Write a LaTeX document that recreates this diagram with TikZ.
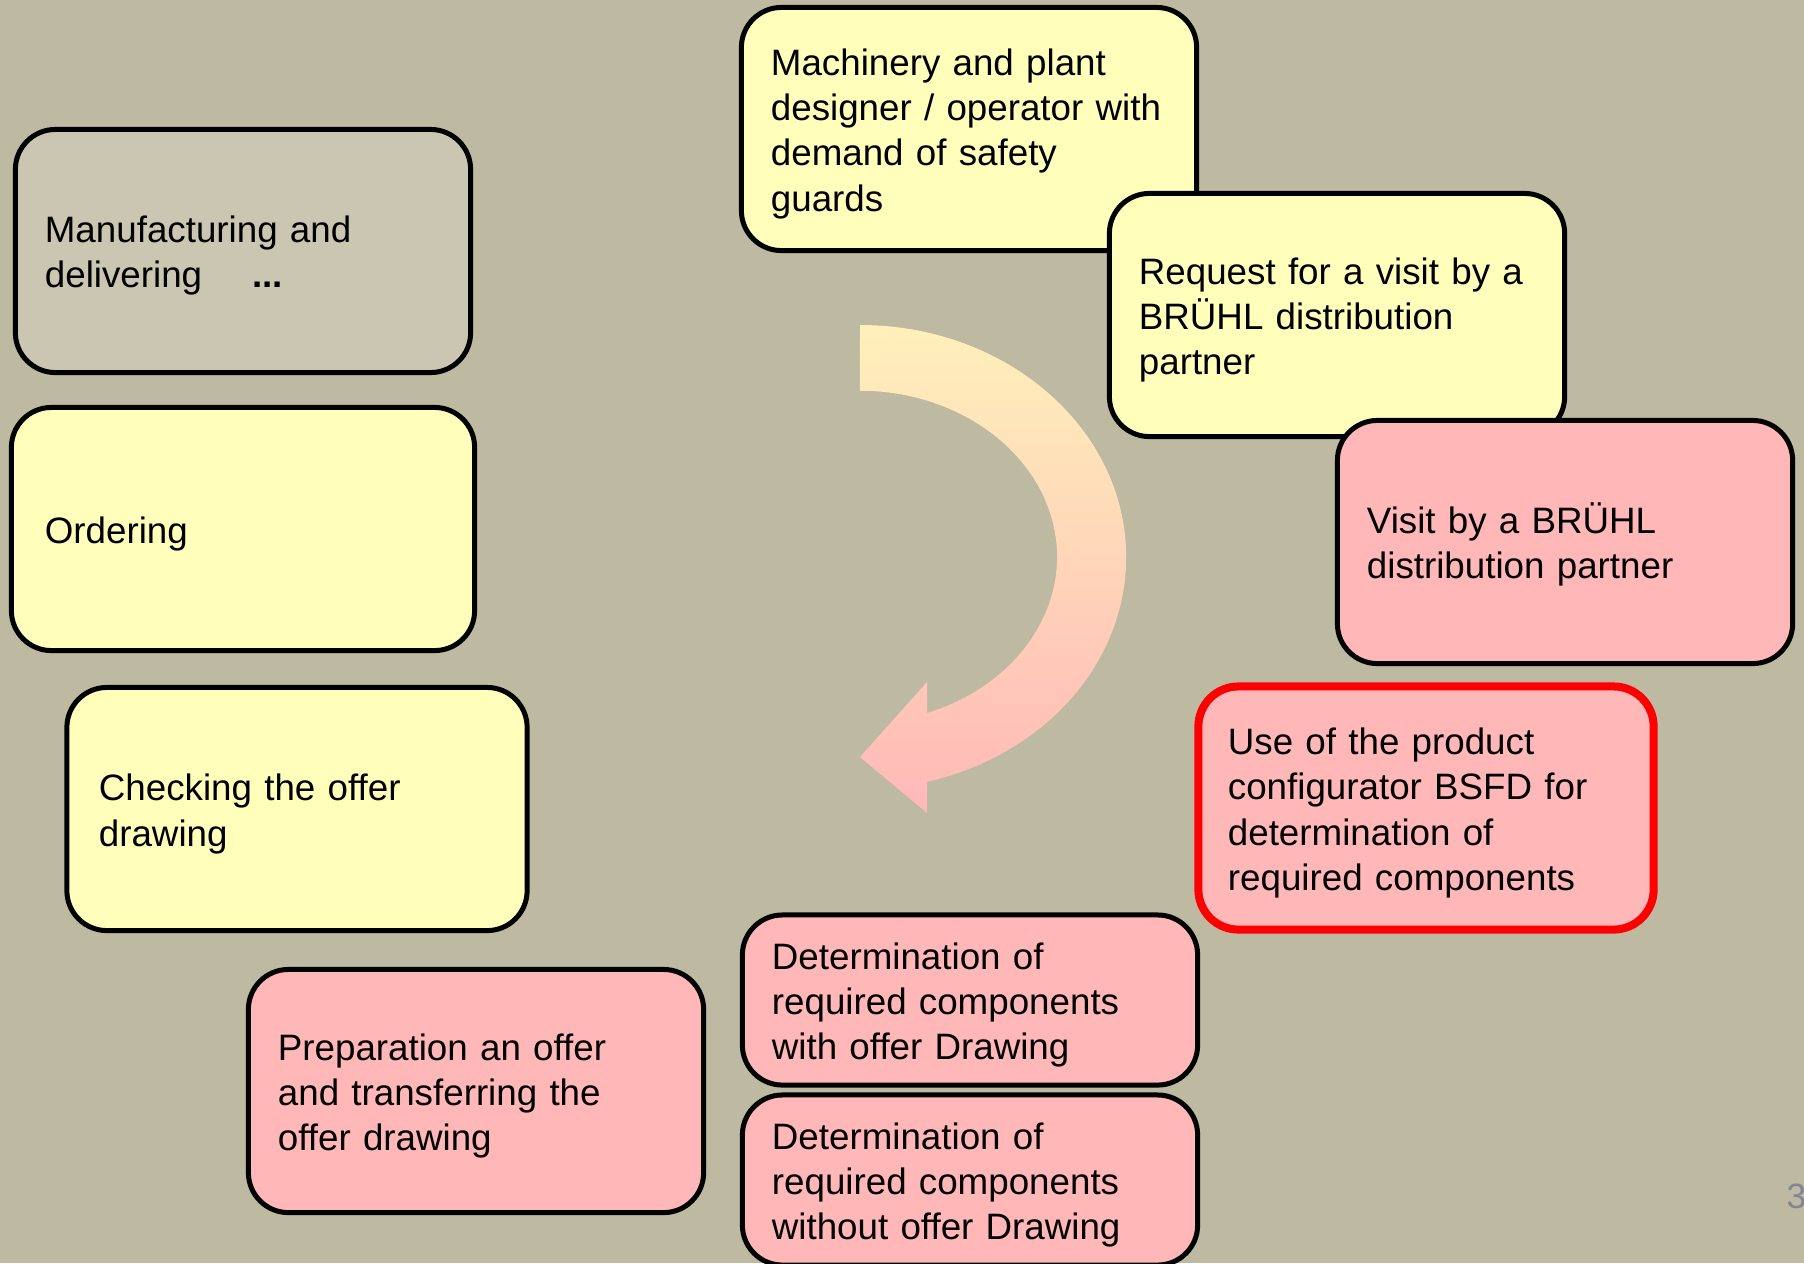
\documentclass[tikz,border=0pt]{standalone}
\usepackage{fontspec}
\setmainfont{Liberation Sans}
\usetikzlibrary{positioning}

\definecolor{slidebg}{RGB}{190,185,161}
\definecolor{paleyellow}{RGB}{255,255,187}
\definecolor{palepink}{RGB}{255,183,183}
\definecolor{palegrey}{RGB}{203,198,178}
\definecolor{arrowtop}{RGB}{255,240,186}
\definecolor{arrowmid}{RGB}{255,228,182}
\definecolor{arrowbot}{RGB}{255,184,184}
\definecolor{pagenum}{RGB}{128,134,150}

\begin{document}
\begin{tikzpicture}[x=0.01cm, y=-0.01cm, font=\fontsize{10.45pt}{12.8pt}\selectfont]
    \tikzset{stage/.style={draw, line width=0.05cm, rounded corners=0.4cm,
             minimum width=4.55cm, minimum height=2.43cm, text width=3.96cm,
             inner xsep=0.295cm, align=left, text height=10.4pt}}
    \useasboundingbox (0,0) rectangle (1804,1263);
    \clip (0,0) rectangle (1804,1263);
    \fill[slidebg] (0,0) rectangle (1804,1263);
    % curved arrow in the middle
    \shade[top color=arrowtop, middle color=arrowmid, bottom color=arrowbot]
      (860,325) arc[start angle=90, end angle=-75.4, x radius=2.66cm, y radius=2.32cm]
      -- (927,813) -- (860,757) -- (927,682) -- (927,713)
      arc[start angle=-70.1, end angle=90, x radius=1.97cm, y radius=1.66cm] -- cycle;
    % left column
    \node[stage, fill=palegrey]  (manuf) at (243,251) {Manufacturing and\\delivering\hspace*{0.5cm}\textbf{...}};
    \node[stage, fill=paleyellow, minimum width=4.63cm] (order) at (243,529) {Ordering};
    \node[stage, fill=paleyellow, minimum width=4.6cm] (check) at (297,809) {Checking the offer\\drawing};
    \node[stage, fill=palepink]   (offer) at (476,1091) {Preparation an offer\\and transferring the\\offer drawing};
    % bottom middle
    \node[stage, fill=palepink, minimum height=1.70cm] (detwith) at (970,1000)
      {Determination of\\required components\\with offer Drawing};
    \node[stage, fill=palepink, minimum height=1.70cm] (detwithout) at (970,1180)
      {Determination of\\required components\\without offer Drawing};
    % right side, top to bottom
    \node[stage, fill=paleyellow] (demand) at (969,129)
      {Machinery and plant\\designer / operator with\\demand of safety\\guards};
    \node[stage, fill=paleyellow] (request) at (1337,315)
      {Request for a visit by a\\BRÜHL distribution\\partner};
    \node[stage, fill=palepink]   (visit) at (1565,542) {Visit by a BRÜHL\\distribution partner};
    \node[stage, fill=palepink, draw=red, line width=0.08cm] (config) at (1426,808)
      {Use of the product\\configurator BSFD for\\determination of\\required components};
    \node[anchor=west, inner sep=0pt, text=pagenum, font=\fontsize{10pt}{12pt}\selectfont] (pageno) at (1786,1196) {3};
\end{tikzpicture}
\end{document}
